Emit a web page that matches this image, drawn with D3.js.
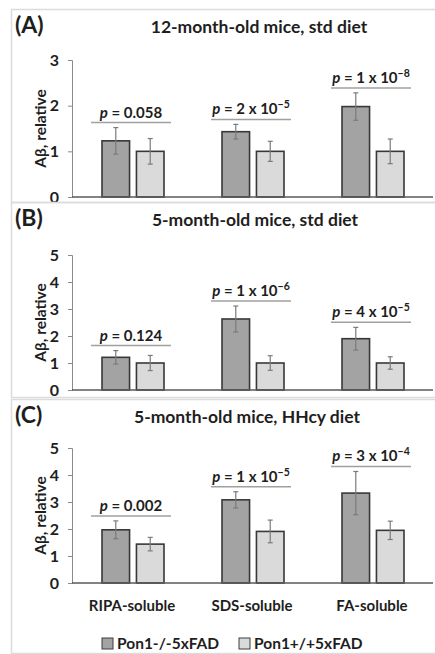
<!DOCTYPE html>
<html>
<head>
<meta charset="utf-8">
<script src="https://cdn.jsdelivr.net/npm/d3@7"></script>
<style>
  body { margin: 0; background: #fff; }
  text { font-family: Lato, "Open Sans", sans-serif; font-weight: bold; fill: #1e1e1e; }
</style>
</head>
<body>
<script>
// data
var categories = ["RIPA-soluble", "SDS-soluble", "FA-soluble"];
var seriesNames = ["Pon1-/-5xFAD", "Pon1+/+5xFAD"];
var panelLabels = ["(A)", "(B)", "(C)"];
var panelTitles = ["12-month-old mice, std diet", "5-month-old mice, std diet", "5-month-old mice, HHcy diet"];
var yMaxes = [3, 5, 5];

// Pon1-/- values, Pon1+/+ values, and their error bars, one array per panel
var koA = [1.23, 1.43, 1.98], koErrA = [0.29, 0.16, 0.30];
var wtA = [1.00, 1.00, 1.00], wtErrA = [0.28, 0.22, 0.27];
var koB = [1.21, 2.63, 1.90], koErrB = [0.25, 0.48, 0.42];
var wtB = [1.00, 1.00, 1.00], wtErrB = [0.28, 0.27, 0.23];
var koC = [1.97, 3.08, 3.33], koErrC = [0.33, 0.30, 0.80];
var wtC = [1.44, 1.91, 1.95], wtErrC = [0.25, 0.42, 0.34];

// p-values: [mantissa text, exponent or null]
var pA = [["0.058", null], ["2 x 10", "\u22125"], ["1 x 10", "\u22128"]];
var pB = [["0.124", null], ["1 x 10", "\u22126"], ["4 x 10", "\u22125"]];
var pC = [["0.002", null], ["1 x 10", "\u22125"], ["3 x 10", "\u22124"]];

var panels = [
  { label: panelLabels[0], title: panelTitles[0], yMax: yMaxes[0], ko: koA, koErr: koErrA, wt: wtA, wtErr: wtErrA, p: pA },
  { label: panelLabels[1], title: panelTitles[1], yMax: yMaxes[1], ko: koB, koErr: koErrB, wt: wtB, wtErr: wtErrB, p: pB },
  { label: panelLabels[2], title: panelTitles[2], yMax: yMaxes[2], ko: koC, koErr: koErrC, wt: wtC, wtErr: wtErrC, p: pC }
];

// layout of each panel box (frame top/bottom, axis top/bottom, title centre)
var boxes = [
  { top: 9,   bottom: 202, yTop: 60,  yBot: 197, titleX: 259 },
  { top: 202, bottom: 397, yTop: 255, yBot: 390, titleX: 255 },
  { top: 399, bottom: 653, yTop: 448, yBot: 583, titleX: 247 }
];

var w = 435, h = 654;
var axisX = 72;
var fills = ["#a3a3a3", "#dadada"];

var svg = d3.select("body").append("svg").attr("width", w).attr("height", h);

// x scales are the same for all three panels
var x0 = d3.scaleBand().domain(categories).range([73, 433]);
var x1 = d3.scaleBand().domain(seriesNames)
  .range([x0.bandwidth() / 2 - 31, x0.bandwidth() / 2 + 31]).paddingInner(0.2);

panels.forEach(function (p, i) {
  var b = boxes[i];
  var g = svg.append("g");

  // light grey frame
  g.append("rect").attr("x", 11.5).attr("y", b.top + 0.5)
    .attr("width", 440).attr("height", b.bottom - b.top)
    .attr("fill", "none").attr("stroke", "#dcdcdc").attr("stroke-width", 1.5);

  g.append("text").attr("x", 15).attr("y", b.top + 24)
    .style("font-size", "23px").text(p.label);
  g.append("text").attr("x", b.titleX).attr("y", b.top + 24)
    .attr("text-anchor", "middle").style("font-size", "17.5px").text(p.title);

  var y = d3.scaleLinear().domain([0, p.yMax]).range([b.yBot, b.yTop]);

  // y axis
  var yAxis = g.append("g").attr("transform", "translate(" + axisX + ",0)")
    .call(d3.axisLeft(y).ticks(p.yMax).tickSize(4).tickPadding(9));
  yAxis.select(".domain").attr("stroke", "#8a8a8a");
  yAxis.selectAll(".tick line").attr("stroke", "#8a8a8a");
  yAxis.selectAll(".tick text").style("font-size", "16px")
    .style("font-family", "Lato, sans-serif").attr("fill", "#1e1e1e");

  g.append("text")
    .attr("transform", "translate(46," + ((b.yTop + b.yBot) / 2) + ") rotate(-90)")
    .attr("text-anchor", "middle").style("font-size", "15.5px").text("A\u03b2, relative");

  var rows = categories.map(function (c, k) {
    return [
      { cat: c, s: seriesNames[0], v: p.ko[k], e: p.koErr[k], fill: fills[0] },
      { cat: c, s: seriesNames[1], v: p.wt[k], e: p.wtErr[k], fill: fills[1] }
    ];
  });
  var flat = d3.merge(rows);

  // bars
  g.selectAll("rect.bar").data(flat).enter().append("rect").attr("class", "bar")
    .attr("x", function (d) { return x0(d.cat) + x1(d.s); })
    .attr("y", function (d) { return y(d.v); })
    .attr("width", x1.bandwidth())
    .attr("height", function (d) { return y(0) - y(d.v); })
    .attr("fill", function (d) { return d.fill; })
    .attr("stroke", "#383838").attr("stroke-width", 1.6);

  // error bars
  var eb = g.selectAll("g.err").data(flat).enter().append("g").attr("class", "err")
    .attr("stroke", "#7a7a7a").attr("stroke-width", 1.2);
  eb.append("line")
    .attr("x1", function (d) { return x0(d.cat) + x1(d.s) + x1.bandwidth() / 2; })
    .attr("x2", function (d) { return x0(d.cat) + x1(d.s) + x1.bandwidth() / 2; })
    .attr("y1", function (d) { return y(d.v + d.e); })
    .attr("y2", function (d) { return y(d.v - d.e); });
  [1, -1].forEach(function (sgn) {
    eb.append("line")
      .attr("x1", function (d) { return x0(d.cat) + x1(d.s) + x1.bandwidth() / 2 - 2.5; })
      .attr("x2", function (d) { return x0(d.cat) + x1(d.s) + x1.bandwidth() / 2 + 2.5; })
      .attr("y1", function (d) { return y(d.v + sgn * d.e); })
      .attr("y2", function (d) { return y(d.v + sgn * d.e); });
  });

  // x axis line
  g.append("line").attr("x1", axisX).attr("x2", 433)
    .attr("y1", y(0)).attr("y2", y(0))
    .attr("stroke", "#5a5a5a").attr("stroke-width", 1.3);

  // p-value brackets, 5px above the highest error bar
  rows.forEach(function (pair, k) {
    var top = d3.min(pair, function (d) { return y(d.v + d.e); }) - 5;
    var cx = x0(pair[0].cat) + x0.bandwidth() / 2 - 2;
    g.append("line").attr("x1", cx - 40).attr("x2", cx + 40)
      .attr("y1", top).attr("y2", top)
      .attr("stroke", "#a0a0a0").attr("stroke-width", 1.5);
    var t = g.append("text").attr("x", cx).attr("y", top - 5)
      .attr("text-anchor", "middle").style("font-size", "15px");
    t.append("tspan").style("font-style", "italic").text("p");
    t.append("tspan").text(" = " + p.p[k][0]);
    if (p.p[k][1]) {
      t.append("tspan").attr("dy", -6).style("font-size", "10.5px").text(p.p[k][1]);
    }
  });

  // category labels only under the last panel
  if (i === panels.length - 1) {
    g.selectAll("text.cat").data(categories).enter().append("text").attr("class", "cat")
      .attr("x", function (d) { return x0(d) + x0.bandwidth() / 2 - 1; })
      .attr("y", 611).attr("text-anchor", "middle").style("font-size", "15px")
      .text(function (d) { return d; });
  }
});

// legend
var legX = [102, 239];
var leg = svg.selectAll("g.leg").data(seriesNames).enter().append("g").attr("class", "leg")
  .attr("transform", function (d, i) { return "translate(" + legX[i] + ",638)"; });
leg.append("rect").attr("width", 11).attr("height", 11)
  .attr("fill", function (d, i) { return fills[i]; })
  .attr("stroke", "#3c3c3c").attr("stroke-width", 1);
leg.append("text").attr("x", 15).attr("y", 11).style("font-size", "15.5px")
  .text(function (d) { return d; });
</script>
</body>
</html>
